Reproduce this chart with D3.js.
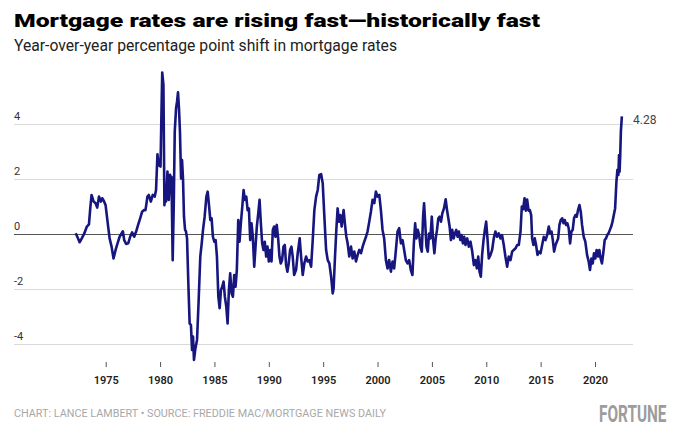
<!DOCTYPE html>
<html>
<head>
<meta charset="utf-8">
<script src="https://cdn.jsdelivr.net/npm/d3@7"></script>
<style>
  body { margin: 0; background: #fff; }
  svg { display: block; font-family: Roboto, "Noto Sans", sans-serif; }
</style>
</head>
<body>
<div id="chart"></div>
<script>

// Mortgage rates YoY shift chart

// Set dimensions for the plot
const width = 680;
const height = 441;
const plot = {left: 14, right: 633, top: 124, bottom: 344};

// x axis ticks (years) and y axis ticks (percentage points)
const yearTicks = [1975, 1980, 1985, 1990, 1995, 2000, 2005, 2010, 2015, 2020];
const shiftTicks = [4, 2, 0, -2, -4];

// dates as decimal years
const dates = [
  1972.24, 1972.42, 1972.6, 1972.8, 1973.03, 1973.27, 1973.46, 1973.58, 1973.7, 1973.89,
  1974.07, 1974.22, 1974.38, 1974.56, 1974.68, 1974.83, 1974.99, 1975.17, 1975.36, 1975.54,
  1975.72, 1975.91, 1976.09, 1976.28, 1976.46, 1976.58, 1976.7, 1976.88, 1977.07, 1977.25,
  1977.43, 1977.62, 1977.8, 1977.98, 1978.17, 1978.35, 1978.53, 1978.66, 1978.84, 1978.96,
  1979.15, 1979.33, 1979.51, 1979.63, 1979.76, 1979.88, 1980.04, 1980.13, 1980.2, 1980.31,
  1980.4, 1980.5, 1980.55, 1980.68, 1980.8, 1980.92, 1980.98, 1981.05, 1981.16, 1981.26,
  1981.35, 1981.47, 1981.56, 1981.65, 1981.74, 1981.83, 1981.93, 1982.02, 1982.11, 1982.2,
  1982.3, 1982.38, 1982.48, 1982.6, 1982.72, 1982.84, 1982.94, 1983.03, 1983.12, 1983.25,
  1983.4, 1983.55, 1983.7, 1983.83, 1983.95, 1984.1, 1984.26, 1984.38, 1984.5, 1984.62,
  1984.74, 1984.86, 1984.99, 1985.11, 1985.23, 1985.36, 1985.48, 1985.6, 1985.72, 1985.84,
  1985.96, 1986.09, 1986.21, 1986.33, 1986.45, 1986.58, 1986.7, 1986.82, 1986.94, 1987.06,
  1987.19, 1987.31, 1987.43, 1987.56, 1987.68, 1987.8, 1987.93, 1988.05, 1988.17, 1988.29,
  1988.41, 1988.53, 1988.66, 1988.78, 1988.9, 1989.03, 1989.15, 1989.27, 1989.39, 1989.51,
  1989.63, 1989.76, 1989.88, 1990.0, 1990.13, 1990.25, 1990.37, 1990.49, 1990.61, 1990.73,
  1990.86, 1990.98, 1991.1, 1991.22, 1991.35, 1991.47, 1991.59, 1991.71, 1991.83, 1991.96,
  1992.08, 1992.2, 1992.33, 1992.51, 1992.66, 1992.84, 1992.97, 1993.12, 1993.27, 1993.43,
  1993.58, 1993.73, 1993.89, 1994.04, 1994.19, 1994.35, 1994.5, 1994.65, 1994.81, 1994.96,
  1995.11, 1995.27, 1995.42, 1995.57, 1995.73, 1995.88, 1995.96, 1996.09, 1996.21, 1996.33,
  1996.46, 1996.58, 1996.7, 1996.88, 1997.01, 1997.13, 1997.25, 1997.4, 1997.56, 1997.71,
  1997.86, 1998.02, 1998.17, 1998.32, 1998.48, 1998.63, 1998.78, 1998.94, 1999.08, 1999.24,
  1999.39, 1999.54, 1999.7, 1999.85, 2000.0, 2000.16, 2000.31, 2000.46, 2000.61, 2000.77,
  2000.92, 2001.07, 2001.23, 2001.38, 2001.53, 2001.69, 2001.84, 2001.99, 2002.15, 2002.3,
  2002.45, 2002.6, 2002.76, 2002.91, 2003.06, 2003.21, 2003.34, 2003.46, 2003.58, 2003.7,
  2003.83, 2003.95, 2004.07, 2004.19, 2004.28, 2004.37, 2004.5, 2004.62, 2004.74, 2004.86,
  2004.99, 2005.11, 2005.23, 2005.35, 2005.47, 2005.59, 2005.72, 2005.84, 2005.96, 2006.11,
  2006.27, 2006.39, 2006.51, 2006.63, 2006.75, 2006.87, 2007.0, 2007.12, 2007.24, 2007.36,
  2007.48, 2007.61, 2007.73, 2007.85, 2007.97, 2008.09, 2008.25, 2008.4, 2008.55, 2008.71,
  2008.86, 2009.01, 2009.13, 2009.26, 2009.38, 2009.5, 2009.62, 2009.75, 2009.87, 2009.99,
  2010.11, 2010.23, 2010.39, 2010.54, 2010.69, 2010.84, 2011.0, 2011.15, 2011.3, 2011.45,
  2011.61, 2011.76, 2011.92, 2012.07, 2012.23, 2012.38, 2012.53, 2012.69, 2012.84, 2012.99,
  2013.15, 2013.27, 2013.39, 2013.52, 2013.64, 2013.76, 2013.89, 2014.01, 2014.13, 2014.22,
  2014.34, 2014.46, 2014.58, 2014.71, 2014.83, 2014.99, 2015.14, 2015.29, 2015.45, 2015.6,
  2015.75, 2015.87, 2016.0, 2016.12, 2016.24, 2016.37, 2016.49, 2016.61, 2016.73, 2016.85,
  2016.98, 2017.1, 2017.22, 2017.34, 2017.46, 2017.58, 2017.71, 2017.83, 2017.95, 2018.07,
  2018.2, 2018.32, 2018.44, 2018.57, 2018.69, 2018.81, 2018.96, 2019.11, 2019.27, 2019.42,
  2019.54, 2019.67, 2019.79, 2019.91, 2020.03, 2020.15, 2020.28, 2020.4, 2020.52, 2020.64,
  2020.76, 2020.89, 2021.01, 2021.13, 2021.25, 2021.37, 2021.49, 2021.61, 2021.73, 2021.85,
  2021.97, 2022.06, 2022.15, 2022.21, 2022.26, 2022.32, 2022.38, 2022.47
];

// year-over-year shift in percentage points
const shift = [
  0.03, -0.13, -0.3, -0.16, 0.02, 0.27, 0.35, 0.93, 1.42, 1.18,
  1.12, 0.96, 1.36, 1.18, 1.3, 1.2, 1.05, 0.45, -0.16, -0.46,
  -0.89, -0.58, -0.34, -0.1, 0.02, 0.1, -0.22, -0.36, -0.34, -0.1,
  0.06, -0.1, 0.09, 0.33, 0.57, 0.81, 0.87, 0.87, 1.36, 1.42,
  1.18, 1.42, 1.36, 1.6, 2.9, 2.51, 2.45, 4.45, 5.87, 5.42,
  1.05, 1.54, 1.18, 2.27, 1.24, 2.15, 1.84, 2.08, -0.95, 1.05,
  3.72, 4.57, 4.81, 5.15, 4.57, 3.72, 2.02, 2.69, 2.02, 0.63,
  0.15, 0.1, -0.16, -1.79, -3.25, -3.31, -4.22, -3.73, -4.58, -4.16,
  -3.85, -2.4, -0.82, -0.34, 0.15, 0.63, 1.36, 1.54, 1.05, 0.51,
  0.57, -0.1, -0.28, -0.22, -0.82, -2.28, -2.7, -2.04, -1.92, -1.73,
  -2.28, -2.64, -3.25, -2.04, -1.43, -2.16, -2.28, -1.49, -1.92, -1.31,
  0.51, -0.28, 0.39, 0.99, 1.6, 1.24, 1.36, 0.87, 0.93, -0.22,
  0.39, -0.1, -1.19, -0.46, 0.27, 0.75, 1.24, 0.39, -0.34, -0.58,
  -0.28, -0.82, -0.46, -1.0, -0.58, -1.0, 0.15, 0.27, -0.1, 0.33,
  -0.16, -0.82, -1.07, -0.95, -0.46, -0.4, -1.13, -1.37, -1.07, -0.58,
  -0.46, -0.82, -1.49, -1.3, -0.7, -0.16, -0.82, -1.49, -1.07, -0.82,
  -1.0, -0.95, -1.19, -0.22, 0.87, 1.36, 1.6, 2.15, 2.18, 1.84,
  0.63, -0.58, -0.95, -1.07, -1.55, -2.16, -1.97, -0.82, 0.15, 0.93,
  0.45, 0.69, 0.27, 0.87, 0.33, -0.1, -0.34, -0.82, -0.46, -0.89,
  -0.64, -1.0, -0.76, -0.58, -0.7, -0.46, -0.28, -0.1, 0.09, 0.45,
  0.81, 1.24, 1.12, 1.54, 1.36, 1.42, 0.87, 0.15, -0.16, -0.95,
  -1.25, -0.95, -1.37, -1.0, -1.25, -0.58, 0.09, 0.21, -0.34, -0.22,
  -0.58, -0.95, -1.07, -0.95, -1.31, -1.49, -0.34, 0.39, -0.16, 0.15,
  -0.04, -0.46, -0.64, 0.63, 1.12, 0.51, -0.46, -0.64, 0.02, -0.16,
  0.63, -0.22, -0.7, -0.16, 0.15, 0.57, 0.63, 0.45, 0.75, 0.93,
  1.26, 0.87, 0.57, 0.27, -0.22, 0.15, -0.16, 0.02, 0.15, -0.1,
  0.09, -0.22, -0.04, -0.34, -0.1, -0.4, -0.16, -0.46, -0.28, -0.64,
  -1.13, -0.95, -1.25, -0.82, -1.37, -1.55, -0.76, -0.22, 0.15, 0.45,
  -0.16, -0.89, -0.76, -0.58, -0.16, 0.09, -0.1, 0.02, -0.16, -0.04,
  -0.4, -0.82, -1.19, -0.82, -0.95, -0.64, -0.58, -0.52, -0.4, -0.4,
  0.09, 1.0, 0.9, 1.3, 0.85, 1.25, 0.85, 0.87, 0.69, -0.16,
  -0.4, -0.16, -0.4, -0.76, -0.64, -0.7, -0.4, -0.1, -0.22, -0.04,
  0.27, 0.03, 0.09, -0.22, -0.64, -0.4, -0.28, -0.16, 0.33, 0.51,
  0.57, 0.39, 0.51, 0.33, 0.39, 0.21, -0.34, 0.09, 0.15, 0.57,
  0.69, 0.63, 0.87, 1.05, 0.81, 0.33, -0.1, -0.28, -0.76, -1.0,
  -1.31, -0.89, -1.07, -0.7, -0.89, -0.58, -0.82, -0.58, -0.89, -1.07,
  -0.7, -0.22, -0.16, -0.04, 0.03, 0.15, 0.27, 0.45, 0.69, 0.93,
  1.9, 2.33, 2.15, 2.87, 2.27, 2.87, 3.72, 4.28
];

// text pieces
const title = "Mortgage rates are rising fast\u2014historically fast";
const subtitle = "Year-over-year percentage point shift in mortgage rates";
const credit = "CHART: LANCE LAMBERT \u2022 SOURCE: FREDDIE MAC/MORTGAGE NEWS DAILY";
const brand = "FORTUNE";

const data = dates.map((d, i) => ({date: d, value: shift[i]}));

// add the svg
const svg = d3.select("#chart")
  .append("svg")
  .attr("width", width)
  .attr("height", height)
  .attr("viewBox", [0, 0, width, height]);

// scales
const xScale = d3.scaleLinear()
  .domain([1975, 2020])
  .range([105.7, 595]);

const yScale = d3.scaleLinear()
  .domain([-4, 4])
  .range([plot.bottom, plot.top]);

// y grid + labels
const yAxis = svg.append("g")
  .attr("transform", `translate(${plot.left},0)`)
  .call(d3.axisRight(yScale)
    .tickValues(shiftTicks)
    .tickSize(plot.right - plot.left)
    .tickFormat(d => String(d)));

yAxis.select(".domain").remove();
yAxis.selectAll(".tick line")
  .attr("stroke", d => d === 0 ? "#555" : "#d9d9d9")
  .attr("stroke-width", d => d === 0 ? 1.2 : 1);
yAxis.selectAll(".tick text")
  .attr("x", 0)
  .attr("dy", -5)
  .attr("text-anchor", "start")
  .attr("fill", "#333")
  .attr("font-size", "11px")
  .attr("font-family", "Roboto, sans-serif");

// x axis
const xAxis = svg.append("g")
  .attr("transform", "translate(0,362)")
  .call(d3.axisBottom(xScale)
    .tickValues(yearTicks)
    .tickSize(5)
    .tickPadding(9)
    .tickFormat(d3.format("d")));

xAxis.select(".domain").remove();
xAxis.selectAll(".tick line").attr("stroke", "#555");
xAxis.selectAll(".tick text")
  .attr("fill", "#222")
  .attr("font-size", "11px")
  .attr("font-weight", 600)
  .attr("font-family", "Roboto, sans-serif");

// the line
const line = d3.line()
  .x(d => xScale(d.date))
  .y(d => yScale(d.value));

svg.append("path")
  .datum(data)
  .attr("fill", "none")
  .attr("stroke", "#16167e")
  .attr("stroke-width", 2.6)
  .attr("stroke-linejoin", "round")
  .attr("d", line);

// last value label
const last = data[data.length - 1];
svg.append("text")
  .attr("x", plot.right)
  .attr("y", yScale(last.value) + 8)
  .attr("fill", "#444")
  .attr("font-size", "12px")
  .text(d3.format(".2f")(last.value));

// title and subtitle
svg.append("text")
  .attr("x", 14)
  .attr("y", 27)
  .attr("font-size", "19px")
  .attr("font-weight", 900)
  .attr("fill", "#000")
  .attr("textLength", 526)
  .attr("lengthAdjust", "spacingAndGlyphs")
  .text(title);

svg.append("text")
  .attr("x", 14)
  .attr("y", 51)
  .attr("font-size", "16px")
  .attr("fill", "#222")
  .attr("textLength", 383)
  .attr("lengthAdjust", "spacingAndGlyphs")
  .text(subtitle);

// footer
svg.append("text")
  .attr("x", 14)
  .attr("y", 417)
  .attr("font-size", "11.5px")
  .attr("fill", "#a8a8a8")
  .attr("textLength", 372)
  .attr("lengthAdjust", "spacingAndGlyphs")
  .text(credit);

// logo, squeezed horizontally so it stays condensed
svg.append("text")
  .attr("transform", "translate(599,422) scale(0.64,1)")
  .attr("font-size", "24px")
  .attr("font-weight", 700)
  .attr("fill", "#9c9c9c")
  .text(brand);

</script>
</body>
</html>
